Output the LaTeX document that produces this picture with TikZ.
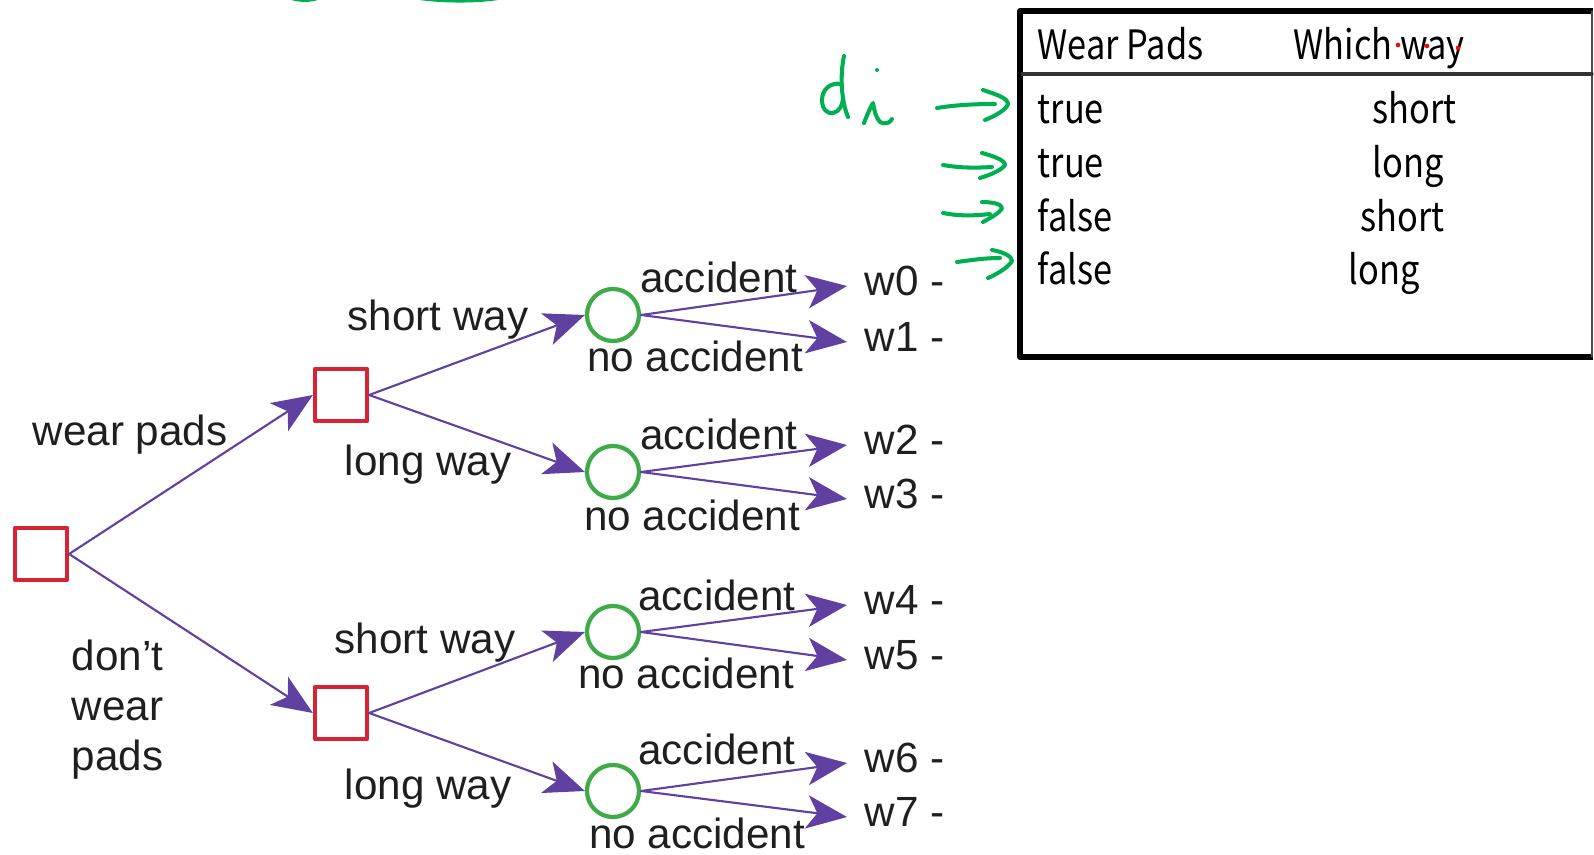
\documentclass[tikz,border=0pt]{standalone}
\usepackage{fontspec}
\setmainfont{Liberation Sans}
\newfontfamily\tablefont[FakeStretch=0.85]{Noto Sans CJK JP}
\usetikzlibrary{arrows.meta}
\definecolor{treepurple}{RGB}{96,64,160}
\definecolor{decred}{RGB}{214,36,52}
\definecolor{chancegreen}{RGB}{62,170,72}
\definecolor{inkgreen}{RGB}{0,176,80}
\begin{document}
\begin{tikzpicture}[x=0.01cm, y=-0.01cm, line join=round, line cap=round, >={Stealth[length=11.5pt,width=9.5pt,inset=3pt]},
	choice/.style={draw=decred, line width=1.2pt, minimum size=0.52cm, inner sep=0pt},
	chance/.style={circle, draw=chancegreen, line width=1.2pt, minimum size=0.52cm, inner sep=0pt},
	branch/.style={->, draw=treepurple, fill=treepurple, line width=0.6pt},
	lbl/.style={text=black!88, font=\fontsize{12}{14.2}\selectfont, inner sep=0pt},
	world/.style={lbl, anchor=west, inner xsep=0.17cm, inner ysep=0pt, text height=9pt, text depth=3.8pt},
	cell/.style={anchor=base west, inner sep=0pt, font=\tablefont\fontsize{11.5}{14}\selectfont},
	ink/.style={draw=inkgreen, line width=1.15pt}]
	\useasboundingbox (0,0) rectangle (1594,855);
	% ==========================================
	% decision and chance nodes
	\node[choice] (root) at (41,554) {};
	\node[choice] (padsYes) at (341,395) {};
	\node[choice] (padsNo) at (341,713) {};
	\node[chance] (c0) at (613,315) {};
	\node[chance] (c1) at (613,472) {};
	\node[chance] (c2) at (613,632) {};
	\node[chance] (c3) at (613,791) {};
	% worlds
	\node[world] (w0) at (847,286) {w0 -};
	\node[world] (w1) at (847,342) {w1 -};
	\node[world] (w2) at (847,445) {w2 -};
	\node[world] (w3) at (847,499) {w3 -};
	\node[world] (w4) at (847,605) {w4 -};
	\node[world] (w5) at (847,660) {w5 -};
	\node[world] (w6) at (847,763) {w6 -};
	\node[world] (w7) at (847,817) {w7 -};
	% ==========================================
	\draw[branch] (root.east) -- (padsYes.west);
	\draw[branch] (root.east) -- (padsNo.west);
	\draw[branch] (padsYes.east) -- (c0.west);
	\draw[branch] (padsYes.east) -- (c1.west);
	\draw[branch] (padsNo.east) -- (c2.west);
	\draw[branch] (padsNo.east) -- (c3.west);
	\draw[branch] (c0.east) -- (w0.west);
	\draw[branch] (c0.east) -- (w1.west);
	\draw[branch] (c1.east) -- (w2.west);
	\draw[branch] (c1.east) -- (w3.west);
	\draw[branch] (c2.east) -- (w4.west);
	\draw[branch] (c2.east) -- (w5.west);
	\draw[branch] (c3.east) -- (w6.west);
	\draw[branch] (c3.east) -- (w7.west);
	% branch labels
	\node[lbl] (lWear) at (130,435) {wear pads};
	\node[lbl, align=left, anchor=west] (lNoWear) at (71,710) {don’t\\wear\\pads};
	\node[lbl] (lShortA) at (438,320) {short way};
	\node[lbl] (lLongA) at (428,465) {long way};
	\node[lbl] (lShortB) at (425,643) {short way};
	\node[lbl] (lLongB) at (428,789) {long way};
	\node[lbl] (acc0) at (719,277) {accident};
	\node[lbl] (acc1) at (719,434) {accident};
	\node[lbl] (acc2) at (717,595) {accident};
	\node[lbl] (acc3) at (717,749) {accident};
	\node[lbl] (noacc0) at (695,356) {no accident};
	\node[lbl] (noacc1) at (692,515) {no accident};
	\node[lbl] (noacc2) at (686,673) {no accident};
	\node[lbl] (noacc3) at (697,833) {no accident};
	% ==========================================
	% table of decision functions
	\draw[line width=1.7pt, line cap=butt] (1593,11) -- (1020,11) -- (1020,357) -- (1593,357);
	\draw[line width=0.5pt, black!70] (1592,11) -- (1592,357);
	\draw[line width=0.9pt, black!80] (1022,74) -- (1592,74);
	\node[cell] (hPads) at (1037,60) {Wear Pads};
	\node[cell] (hWay) at (1293,60) {Which way};
	\node[cell] (r1a) at (1037,124) {true};
	\node[cell] (r1b) at (1372,124) {short};
	\node[cell] (r2a) at (1037,178) {true};
	\node[cell] (r2b) at (1372,178) {long};
	\node[cell] (r3a) at (1037,232) {false};
	\node[cell] (r3b) at (1360,232) {short};
	\node[cell] (r4a) at (1037,285) {false};
	\node[cell] (r4b) at (1348,285) {long};
	\fill[red] (1398,45) circle (2.3) (1427,46) circle (2.3) (1458,48) circle (2.3);
	% ==========================================
	% pen marks: d_i and arrows to the rows
	\draw[ink] (844,56) .. controls (840,75) and (841,100) .. (848,117);
	\draw[ink] (841,84) .. controls (830,82) and (822,90) .. (822,100) .. controls (822,110) and (828,114) .. (833,113) .. controls (839,112) and (843,105) .. (843,97);
	\draw[ink] (864,123) .. controls (867,115) and (871,106) .. (873,103) .. controls (874,110) and (876,118) .. (880,122) .. controls (885,125) and (890,123) .. (892,119);
	\fill[inkgreen] (877,70) circle (2);
	\draw[ink] (937,108) .. controls (955,105) and (975,104) .. (995,104);
	\draw[ink] (983,90) .. controls (995,94) and (1008,98) .. (1008,104) .. controls (1006,110) and (995,116) .. (985,120);
	\draw[ink] (943,165) .. controls (960,168) and (975,168) .. (992,167);
	\draw[ink] (982,153) .. controls (993,156) and (1005,160) .. (1005,165) .. controls (1002,170) and (990,175) .. (980,178);
	\draw[ink] (943,213) .. controls (958,216) and (972,216) .. (990,214);
	\draw[ink] (982,202) .. controls (992,202) and (1002,204) .. (1002,208) .. controls (1000,213) and (990,218) .. (983,222);
	\draw[ink] (957,262) .. controls (972,260) and (985,258) .. (1000,258);
	\draw[ink] (992,250) .. controls (1003,252) and (1012,256) .. (1012,261) .. controls (1008,268) and (995,275) .. (988,278);
	% strokes running off the top edge
	\draw[ink] (284,-6) .. controls (292,1) and (312,2) .. (322,-4);
	\draw[ink] (405,-6) .. controls (420,2) and (490,3) .. (510,-5);
\end{tikzpicture}
\end{document}
